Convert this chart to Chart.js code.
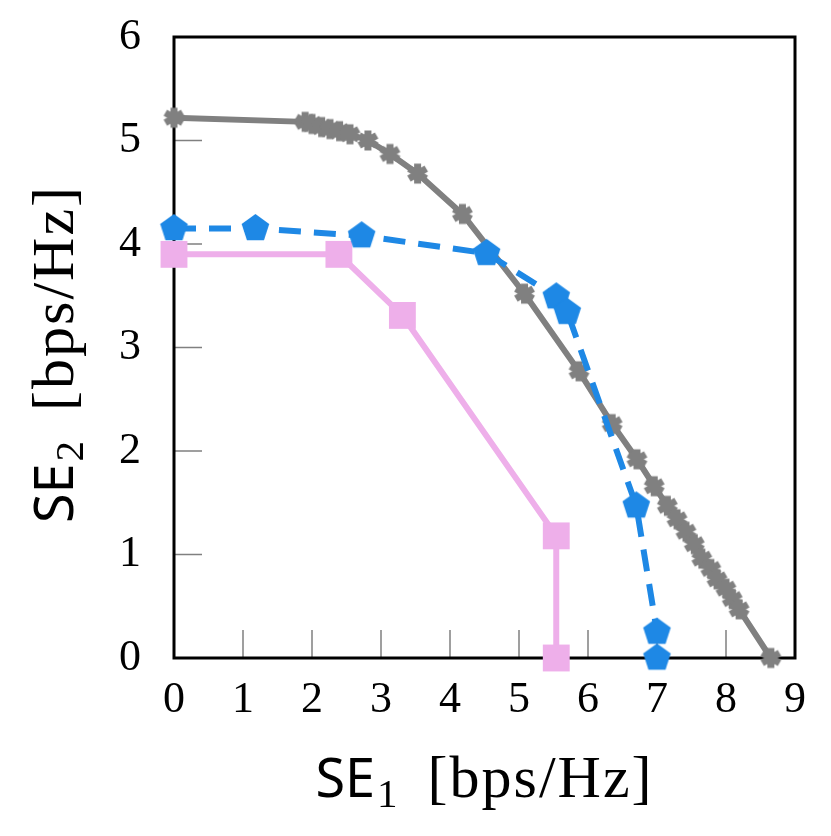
<!DOCTYPE html>
<html>
<head>
<meta charset="utf-8">
<script src="https://cdn.jsdelivr.net/npm/chart.js@4.4.1/dist/chart.umd.min.js"></script>
<style>
    html, body { margin: 0; padding: 0; background: #fff; }
    #wrap { width: 831px; height: 836px; }
</style>
</head>
<body>
<div id="wrap"><canvas id="chart" width="831" height="836"></canvas></div>
<script>
const xTicks = [0, 1, 2, 3, 4, 5, 6, 7, 8, 9];
const yTicks = [0, 1, 2, 3, 4, 5, 6];

// gray, asterisk marks
const grayX = [0, 1.90, 2.00, 2.14, 2.26, 2.40, 2.55, 2.81, 3.13, 3.53, 4.18, 5.08, 5.87, 6.35, 6.71, 6.96, 7.15, 7.29, 7.42, 7.54, 7.65, 7.78, 7.87, 8.00, 8.09, 8.19, 8.65];
const grayY = [5.22, 5.18, 5.16, 5.13, 5.11, 5.09, 5.06, 5.00, 4.87, 4.68, 4.29, 3.52, 2.77, 2.26, 1.92, 1.66, 1.47, 1.34, 1.22, 1.10, 0.96, 0.86, 0.76, 0.67, 0.57, 0.47, 0.00];

// blue, dashed, pentagon marks
const blueX = [0, 1.18, 2.72, 4.53, 5.54, 5.70, 6.70, 7.00, 7.00];
const blueY = [4.15, 4.15, 4.08, 3.91, 3.49, 3.34, 1.47, 0.25, 0.00];

// pink, square marks
const pinkX = [0, 2.39, 3.31, 5.54, 5.54];
const pinkY = [3.90, 3.90, 3.31, 1.18, 0.00];

const GRAY = "#808080";
const BLUE = "#1E88E5";
const PINK = "rgb(238, 175, 234)";

function zip(xs, ys) {
    return xs.map((x, i) => ({ x, y: ys[i] }));
}

function makePentagon(r, color) {
    const c = document.createElement("canvas");
    const s = Math.ceil(2 * r + 2);
    c.width = s;
    c.height = s;
    const ctx = c.getContext("2d");
    ctx.fillStyle = color;
    ctx.beginPath();
    for (let i = 0; i < 5; i++) {
        const a = -Math.PI / 2 + (i * 2 * Math.PI) / 5;
        const px = s / 2 + r * Math.cos(a);
        const py = s / 2 + r * Math.sin(a);
        if (i === 0) ctx.moveTo(px, py);
        else ctx.lineTo(px, py);
    }
    ctx.closePath();
    ctx.fill();
    return c;
}

function makeAsterisk(r, lw, color) {
    const c = document.createElement("canvas");
    const s = Math.ceil(2 * r + lw + 2);
    c.width = s;
    c.height = s;
    const ctx = c.getContext("2d");
    ctx.strokeStyle = color;
    ctx.lineWidth = lw;
    ctx.beginPath();
    for (let i = 0; i < 3; i++) {
        const a = -Math.PI / 2 + (i * Math.PI) / 3;
        ctx.moveTo(s / 2 - r * Math.cos(a), s / 2 - r * Math.sin(a));
        ctx.lineTo(s / 2 + r * Math.cos(a), s / 2 + r * Math.sin(a));
    }
    ctx.stroke();
    return c;
}

// inside ticks and the black frame
const framePlugin = {
    id: "frame",
    beforeDatasetsDraw(chart) {
        const { ctx, chartArea } = chart;
        const xs = chart.scales.x;
        const ys = chart.scales.y;
        ctx.save();
        ctx.strokeStyle = GRAY;
        ctx.lineWidth = 1.5;
        ctx.beginPath();
        xTicks.forEach((t) => {
            const px = xs.getPixelForValue(t);
            ctx.moveTo(px, chartArea.bottom);
            ctx.lineTo(px, chartArea.bottom - 28);
        });
        yTicks.forEach((t) => {
            const py = ys.getPixelForValue(t);
            ctx.moveTo(chartArea.left, py);
            ctx.lineTo(chartArea.left + 28, py);
        });
        ctx.stroke();
        ctx.strokeStyle = "#000";
        ctx.lineWidth = 3;
        ctx.strokeRect(chartArea.left, chartArea.top, chartArea.right - chartArea.left, chartArea.bottom - chartArea.top);
        ctx.restore();
    },
};

function drawRichLabel(ctx, sub) {
    const parts = [
        { text: "SE", font: "54px 'Noto Sans'", dy: 0, after: 2, spacing: "0px" },
        { text: sub, font: "41px 'Liberation Serif'", dy: 10, after: 30, spacing: "0px" },
        { text: "[bps/Hz]", font: "60px 'Liberation Serif'", dy: 0, after: 0, spacing: "2px" },
    ];
    let total = 0;
    parts.forEach((p) => {
        ctx.font = p.font;
        ctx.letterSpacing = p.spacing;
        p.w = ctx.measureText(p.text).width;
        total += p.w + p.after;
    });
    let x = -total / 2;
    ctx.fillStyle = "#000";
    ctx.textBaseline = "alphabetic";
    ctx.textAlign = "left";
    parts.forEach((p) => {
        ctx.font = p.font;
        ctx.letterSpacing = p.spacing;
        ctx.fillText(p.text, x, p.dy);
        x += p.w + p.after;
    });
    ctx.letterSpacing = "0px";
}

const axisTitlePlugin = {
    id: "axisTitles",
    afterDraw(chart) {
        const { ctx, chartArea } = chart;
        ctx.save();
        ctx.translate((chartArea.left + chartArea.right) / 2, 797);
        drawRichLabel(ctx, "1");
        ctx.restore();

        ctx.save();
        ctx.translate(73, 354);
        ctx.rotate(-Math.PI / 2);
        drawRichLabel(ctx, "2");
        ctx.restore();
    },
};

const tickFont = { family: "'Liberation Serif'", size: 44 };

new Chart(document.getElementById("chart"), {
    type: "scatter",
    data: {
        datasets: [
            {
                data: zip(blueX, blueY),
                showLine: true,
                borderColor: BLUE,
                borderWidth: 6,
                borderDash: [22, 13],
                pointStyle: makePentagon(14.5, BLUE),
                pointRadius: 14,
                clip: false,
                order: 1,
            },
            {
                data: zip(pinkX, pinkY),
                showLine: true,
                borderColor: PINK,
                borderWidth: 6,
                pointStyle: "rect",
                pointRadius: 19,
                pointBackgroundColor: PINK,
                pointBorderColor: PINK,
                pointBorderWidth: 0,
                clip: false,
                order: 2,
            },
            {
                data: zip(grayX, grayY),
                showLine: true,
                borderColor: GRAY,
                borderWidth: 6,
                pointStyle: makeAsterisk(10, 7, GRAY),
                pointRadius: 10,
                clip: false,
                order: 3,
            },
        ],
    },
    options: {
        responsive: false,
        animation: false,
        events: [],
        layout: {
            padding: { left: 0, top: 37, right: 36, bottom: 0 },
        },
        plugins: {
            legend: { display: false },
            tooltip: { enabled: false },
        },
        elements: {
            line: { tension: 0 },
        },
        scales: {
            x: {
                type: "linear",
                min: 0,
                max: 9,
                afterFit(scale) {
                    scale.height = 178;
                    scale.paddingLeft = 0;
                    scale.paddingRight = 0;
                },
                afterBuildTicks(scale) {
                    scale.ticks = xTicks.map((v) => ({ value: v }));
                },
                grid: { display: false },
                border: { display: false },
                ticks: {
                    font: tickFont,
                    color: "#000",
                    padding: 8,
                    maxRotation: 0,
                    autoSkip: false,
                },
            },
            y: {
                type: "linear",
                min: 0,
                max: 6,
                afterFit(scale) {
                    scale.width = 174;
                    scale.paddingTop = 0;
                    scale.paddingBottom = 0;
                },
                afterBuildTicks(scale) {
                    scale.ticks = yTicks.map((v) => ({ value: v }));
                },
                grid: { display: false },
                border: { display: false },
                ticks: {
                    font: tickFont,
                    color: "#000",
                    padding: 25,
                    autoSkip: false,
                },
            },
        },
    },
    plugins: [framePlugin, axisTitlePlugin],
});
</script>
</body>
</html>
